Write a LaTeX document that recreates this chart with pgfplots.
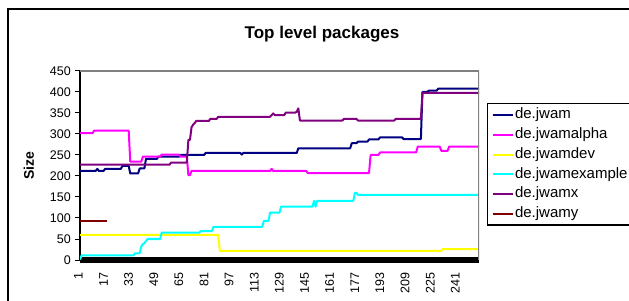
\documentclass[border=0pt]{standalone}
\usepackage{fontspec}
\setmainfont{Liberation Sans}
\usepackage{pgfplots}
\pgfplotsset{compat=1.18}
\definecolor{cJwam}{RGB}{0,0,128}
\definecolor{cAlpha}{RGB}{255,0,255}
\definecolor{cDev}{RGB}{255,255,0}
\definecolor{cExample}{RGB}{0,255,255}
\definecolor{cX}{RGB}{128,0,128}
\definecolor{cY}{RGB}{128,0,0}
\definecolor{cFrame}{RGB}{128,128,128}
\begin{document}
\begin{tikzpicture}
\useasboundingbox (0bp,0bp) rectangle (629bp,301bp);
\fill[white] (0bp,0bp) rectangle (629bp,301bp);
\draw[black, line width=2bp] (7.5bp,-30bp) -- (7.5bp,291.5bp) -- (660bp,291.5bp);
\begin{axis}[
  at={(80bp,41bp)}, anchor=south west,
  width=399bp, height=189bp, scale only axis,
  xmin=1, xmax=255, ymin=0, ymax=450,
  separate axis lines,
  axis x line*=bottom, axis y line*=left,
  x axis line style={line width=5bp, black, -},
  y axis line style={line width=1.5bp, black, -},
  xtick={1,17,...,241},
  ytick={0,50,...,450},
  tick align=outside,
  xtick style={draw=none},
  ytick style={black, line width=1bp},
  major tick length=5bp,
  /pgf/number format/assume math mode=true,
  tick label style={font=\fontsize{12.5bp}{14bp}\selectfont},
  xticklabel style={yshift=-7bp, rotate=90, anchor=mid east, inner sep=0pt},
  yticklabel style={anchor=east, inner sep=0pt, xshift=-4bp},
  ylabel={Size},
  ylabel style={font=\bfseries\fontsize{14bp}{16bp}\selectfont, at={(axis description cs:-0.128,0.5)}, rotate=0, anchor=center},
  title={Top level packages},
  title style={font=\bfseries\fontsize{17bp}{19bp}\selectfont, at={(axis description cs:0.6065,1.164)}, anchor=center, yshift=0pt},
  legend style={at={(axis description cs:1.0195,0.8307)}, anchor=north west,
    draw=black, line width=1.5bp, font=\fontsize{15bp}{16bp}\selectfont,
    inner xsep=4bp, inner ysep=3bp, row sep=3.3bp,
    nodes={inner sep=1.5bp, text height=10.5bp, text depth=3bp}},
  legend cell align=left,
  legend image code/.code={\draw[#1, line width=2bp] (0bp,0bp) -- (20bp,0bp);},
  every axis plot/.append style={line width=2bp, mark=none, line join=round},
]
\addplot[cJwam] coordinates {(1,212)(11,212)(12,217)(13,212)(16,212)(17,217)(27,217)(28,224)(32,224)(33,206)(38,206)(39,218)(42,218)(43,241)(50,241)(51,246)(64,246)(65,250)(80,250)(81,255)(103,255)(104,251)(105,255)(139,255)(140,266)(173,266)(174,278)(177,278)(178,282)(184,282)(185,287)(191,287)(192,292)(206,292)(207,288)(218,288)(219,400)(222,400)(223,403)(228,403)(229,408)(255,408)};
\addlegendentry{de.jwam}
\addplot[cAlpha] coordinates {(1,302)(9,302)(10,308)(32,308)(33,234)(40,234)(41,246)(52,246)(53,251)(64,251)(65,246)(69,246)(70,202)(71,202)(72,212)(122,212)(123,217)(124,212)(145,212)(146,207)(185,207)(186,250)(191,250)(192,256)(215,256)(216,270)(230,270)(231,260)(235,260)(236,270)(255,270)};
\addlegendentry{de.jwamalpha}
\addplot[cDev] coordinates {(1,60)(89,60)(90,22)(231,22)(232,26)(255,26)};
\addlegendentry{de.jwamdev}
\addplot[cExample] coordinates {(1,1)(2,11)(35,11)(36,16)(39,16)(40,32)(41,38)(42,40)(43,45)(44,50)(52,50)(53,65)(77,65)(78,69)(85,69)(86,79)(117,79)(118,93)(121,93)(122,113)(128,113)(129,127)(149,127)(150,141)(151,127)(152,141)(175,141)(176,160)(177,160)(178,155)(255,155)};
\addlegendentry{de.jwamexample}
\addplot[cX] coordinates {(1,227)(58,227)(59,232)(69,232)(70,286)(71,286)(72,316)(73,322)(74,326)(75,331)(83,331)(84,336)(88,336)(89,341)(122,341)(123,345)(124,349)(125,345)(131,345)(132,351)(138,351)(139,353)(140,361)(141,332)(168,332)(169,336)(177,336)(178,332)(201,332)(202,336)(218,336)(219,398)(255,398)};
\addlegendentry{de.jwamx}
\addplot[cY] coordinates {(1,93)(18,93)};
\addlegendentry{de.jwamy}
\draw[cFrame, line width=1.5bp] (rel axis cs:0,1) -- (rel axis cs:1,1);
\draw[cFrame, line width=2bp] (rel axis cs:1,1) -- (rel axis cs:1,0);
\end{axis}
\end{tikzpicture}
\end{document}
